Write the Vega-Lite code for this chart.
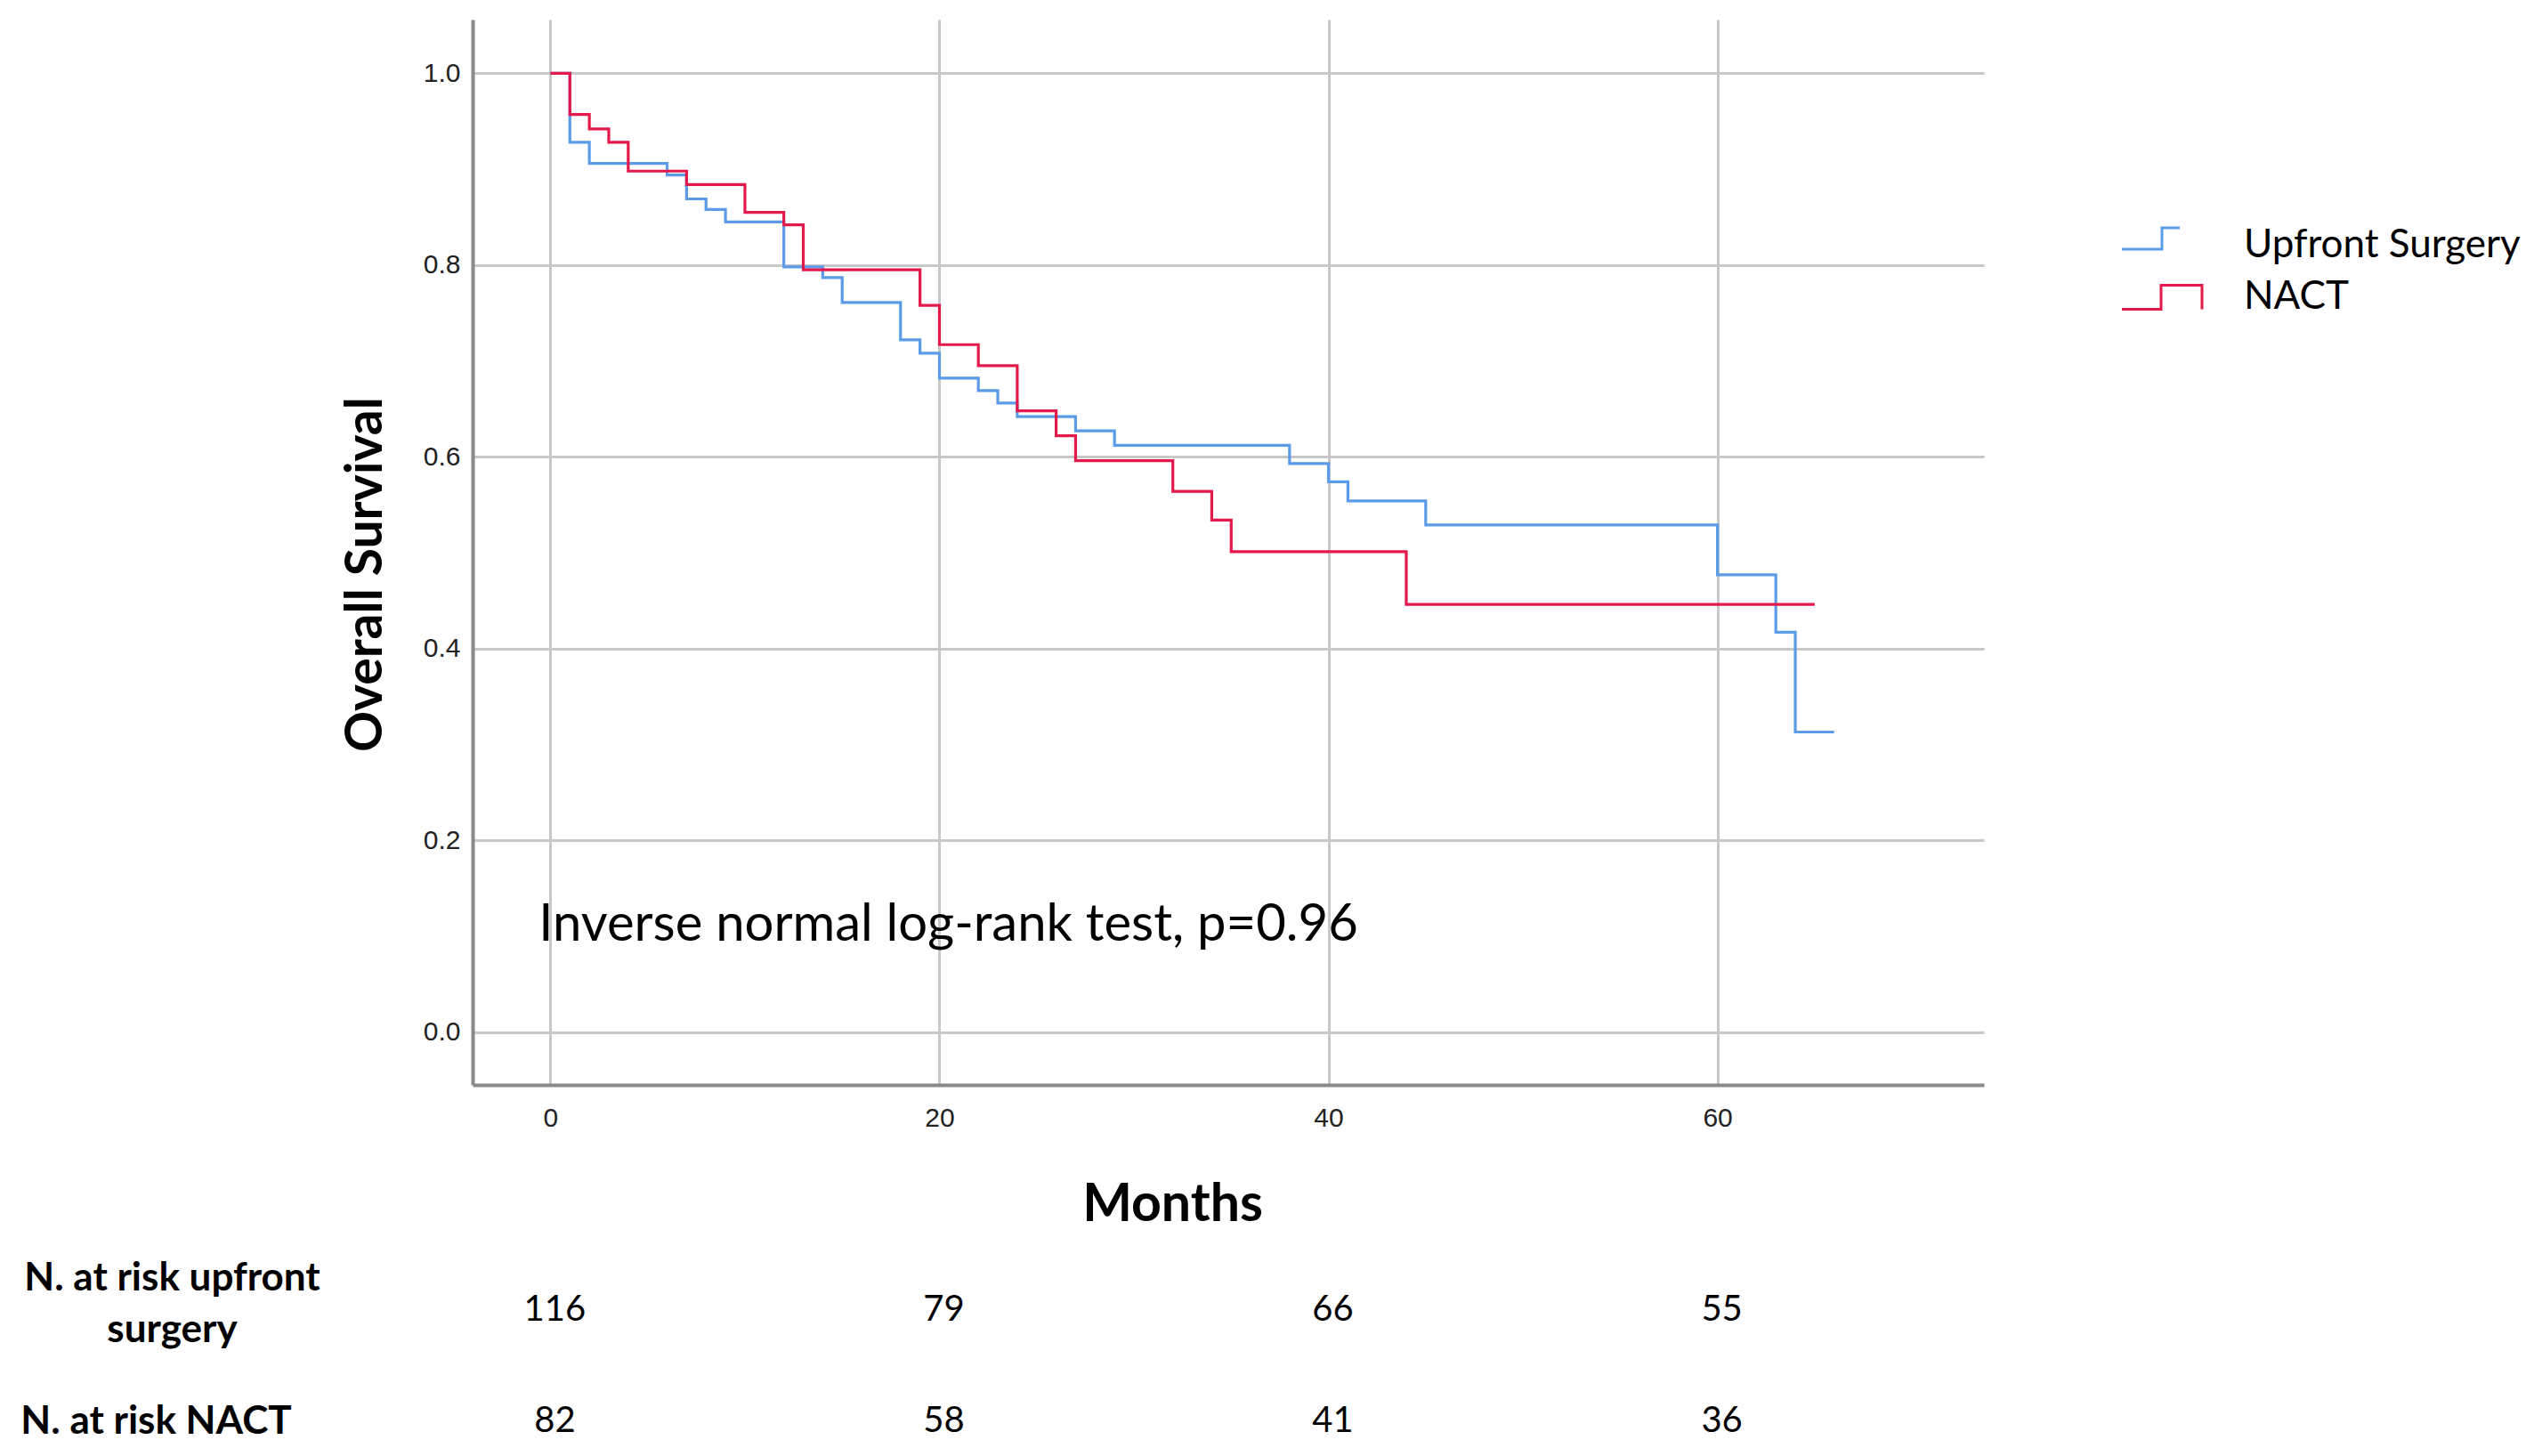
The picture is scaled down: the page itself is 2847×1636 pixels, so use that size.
{
  "$schema": "https://vega.github.io/schema/vega-lite/v6.json",
  "background": "white",
  "padding": {"left": 22, "top": 22, "right": 0, "bottom": 0},
  "spacing": 31,
  "config": {
    "view": {"stroke": null},
    "font": "Lato",
    "axis": {"labelColor": "#222222", "titleColor": "black", "tickSize": 0, "ticks": false}
  },
  "vconcat": [
    {
      "width": 1698,
      "height": 1197,
      "layer": [
        {
          "data": {
            "values": [
              {"group": "Upfront Surgery", "month": 0, "survival": 1.0},
              {"group": "Upfront Surgery", "month": 1, "survival": 0.928},
              {"group": "Upfront Surgery", "month": 2, "survival": 0.906},
              {"group": "Upfront Surgery", "month": 6, "survival": 0.894},
              {"group": "Upfront Surgery", "month": 7, "survival": 0.869},
              {"group": "Upfront Surgery", "month": 8, "survival": 0.858},
              {"group": "Upfront Surgery", "month": 9, "survival": 0.845},
              {"group": "Upfront Surgery", "month": 12, "survival": 0.798},
              {"group": "Upfront Surgery", "month": 14, "survival": 0.787},
              {"group": "Upfront Surgery", "month": 15, "survival": 0.761},
              {"group": "Upfront Surgery", "month": 18, "survival": 0.722},
              {"group": "Upfront Surgery", "month": 19, "survival": 0.708},
              {"group": "Upfront Surgery", "month": 20, "survival": 0.682},
              {"group": "Upfront Surgery", "month": 22, "survival": 0.669},
              {"group": "Upfront Surgery", "month": 23, "survival": 0.656},
              {"group": "Upfront Surgery", "month": 24, "survival": 0.642},
              {"group": "Upfront Surgery", "month": 27, "survival": 0.627},
              {"group": "Upfront Surgery", "month": 29, "survival": 0.612},
              {"group": "Upfront Surgery", "month": 38, "survival": 0.593},
              {"group": "Upfront Surgery", "month": 40, "survival": 0.574},
              {"group": "Upfront Surgery", "month": 41, "survival": 0.554},
              {"group": "Upfront Surgery", "month": 45, "survival": 0.529},
              {"group": "Upfront Surgery", "month": 60, "survival": 0.477},
              {"group": "Upfront Surgery", "month": 63, "survival": 0.417},
              {"group": "Upfront Surgery", "month": 64, "survival": 0.313},
              {"group": "Upfront Surgery", "month": 66, "survival": 0.313},
              {"group": "NACT", "month": 0, "survival": 1.0},
              {"group": "NACT", "month": 1, "survival": 0.957},
              {"group": "NACT", "month": 2, "survival": 0.942},
              {"group": "NACT", "month": 3, "survival": 0.928},
              {"group": "NACT", "month": 4, "survival": 0.898},
              {"group": "NACT", "month": 7, "survival": 0.884},
              {"group": "NACT", "month": 10, "survival": 0.855},
              {"group": "NACT", "month": 12, "survival": 0.842},
              {"group": "NACT", "month": 13, "survival": 0.795},
              {"group": "NACT", "month": 19, "survival": 0.758},
              {"group": "NACT", "month": 20, "survival": 0.717},
              {"group": "NACT", "month": 22, "survival": 0.695},
              {"group": "NACT", "month": 24, "survival": 0.648},
              {"group": "NACT", "month": 26, "survival": 0.622},
              {"group": "NACT", "month": 27, "survival": 0.596},
              {"group": "NACT", "month": 32, "survival": 0.564},
              {"group": "NACT", "month": 34, "survival": 0.534},
              {"group": "NACT", "month": 35, "survival": 0.501},
              {"group": "NACT", "month": 44, "survival": 0.446},
              {"group": "NACT", "month": 65, "survival": 0.446}
            ]
          },
          "mark": {"type": "line", "interpolate": "step-after", "strokeWidth": 3.2},
          "encoding": {
            "x": {
              "field": "month", "type": "quantitative",
              "scale": {"domain": [-4, 73.7], "nice": false, "zero": false},
              "axis": {
                "values": [0, 20, 40, 60], "title": "Months", "grid": true,
                "gridColor": "#c8c8c8", "gridWidth": 3,
                "domainColor": "#8a8a8a", "domainWidth": 4,
                "labelFont": "Liberation Sans", "labelFontSize": 30, "labelPadding": 22,
                "titleFont": "Lato", "titleFontSize": 59, "titleFontWeight": "bold",
                "titleX": 786, "titleY": 134, "titleBaseline": "middle", "titleAlign": "center"
              }
            },
            "y": {
              "field": "survival", "type": "quantitative",
              "scale": {"domain": [-0.055, 1.056], "nice": false, "zero": false},
              "axis": {
                "values": [0, 0.2, 0.4, 0.6, 0.8, 1.0], "format": ".1f", "title": "Overall Survival", "grid": true,
                "gridColor": "#c8c8c8", "gridWidth": 3,
                "domainColor": "#8a8a8a", "domainWidth": 4,
                "labelFont": "Liberation Sans", "labelFontSize": 30, "labelPadding": 14,
                "titleFont": "Lato", "titleFontSize": 57, "titleFontWeight": "bold",
                "titleX": -120, "titleY": 623, "titleAngle": -90, "titleBaseline": "middle", "titleAlign": "center"
              }
            },
            "color": {
              "field": "group", "type": "nominal",
              "scale": {"domain": ["Upfront Surgery", "NACT"], "range": ["#5b9be8", "#e3194b"]},
              "legend": {
                "orient": "none", "legendX": 1876, "legendY": 232, "title": null,
                "padding": 0, "labelFont": "Lato", "labelFontSize": 44, "labelColor": "black",
                "labelOffset": 70, "labelLimit": 0, "rowPadding": 14,
                "symbolSize": 1600, "symbolStrokeWidth": 3,
                "encode": {
                  "symbols": {
                    "update": {
                      "shape": {"signal": "datum.value === 'NACT' ? 'M -2.25 0.675 H -0.05 V -0.675 H 2.25 V 0.675' : 'M -2.25 0.2 H 0 V -1 H 1'"},
                      "fill": {"value": "transparent"}
                    }
                  }
                }
              }
            }
          }
        },
        {
          "data": {"values": [{"label": "Inverse normal log-rank test, p=0.96"}]},
          "mark": {"type": "text", "align": "left", "baseline": "middle", "fontSize": 58, "font": "Lato", "color": "black"},
          "encoding": {
            "x": {"datum": -0.6, "type": "quantitative"},
            "y": {"datum": 0.111, "type": "quantitative"},
            "text": {"field": "label"}
          }
        }
      ]
    },
    {
      "width": 1698,
      "height": 125,
      "data": {
        "values": [
          {"row": "N. at risk upfront surgery", "month": 0, "n": 116},
          {"row": "N. at risk upfront surgery", "month": 20, "n": 79},
          {"row": "N. at risk upfront surgery", "month": 40, "n": 66},
          {"row": "N. at risk upfront surgery", "month": 60, "n": 55},
          {"row": "N. at risk NACT", "month": 0, "n": 82},
          {"row": "N. at risk NACT", "month": 20, "n": 58},
          {"row": "N. at risk NACT", "month": 40, "n": 41},
          {"row": "N. at risk NACT", "month": 60, "n": 36}
        ]
      },
      "mark": {"type": "text", "fontSize": 40, "baseline": "middle", "align": "center", "font": "Lato", "color": "black", "dx": 5},
      "encoding": {
        "x": {
          "field": "month", "type": "quantitative",
          "scale": {"domain": [-4, 73.7], "nice": false, "zero": false},
          "axis": null
        },
        "y": {
          "field": "row", "type": "nominal",
          "scale": {"type": "point", "padding": 0, "domain": ["N. at risk upfront surgery", "N. at risk NACT"]},
          "axis": {
            "title": null, "domain": false, "ticks": false, "grid": false,
            "labelExpr": "datum.value === 'N. at risk upfront surgery' ? ['N. at risk upfront', 'surgery'] : datum.value",
            "labelFont": "Lato", "labelFontWeight": "bold", "labelFontSize": 44, "labelColor": "black",
            "labelAlign": "center", "labelBaseline": "middle", "labelLineHeight": 58, "labelLimit": 0,
            "labelOffset": {"condition": {"test": "datum.value === 'N. at risk upfront surgery'", "value": -36}, "value": 0},
            "labelPadding": {"condition": {"test": "datum.value === 'N. at risk NACT'", "value": 356}, "value": 338}
          }
        },
        "text": {"field": "n", "type": "quantitative"}
      }
    }
  ]
}
